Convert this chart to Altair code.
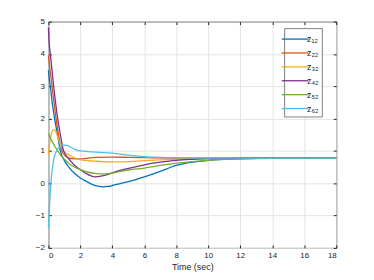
import altair as alt
import pandas as pd

# ---- data ----
t_z12 = [0, 0.05, 0.12, 0.25, 0.39, 0.55, 0.75, 1.0, 1.32, 1.65, 2.0, 2.4, 2.77, 3.1, 3.4, 3.7, 4.0, 4.5, 5.0, 6.0, 7.0, 8.0, 9.0, 10.0, 11.0, 12.0, 14.0, 16.0, 18.0]
v_z12 = [3.5, 3.25, 3.0, 2.45, 2.0, 1.55, 1.0, 0.7, 0.47, 0.3, 0.16, 0.05, -0.04, -0.09, -0.11, -0.1, -0.07, -0.01, 0.05, 0.2, 0.37, 0.55, 0.65, 0.71, 0.74, 0.76, 0.78, 0.78, 0.78]

t_z22 = [0, 0.1, 0.23, 0.35, 0.48, 0.65, 0.85, 1.05, 1.3, 1.55, 2.0, 2.5, 3.0, 4.0, 5.0, 6.0, 8.0, 10.0, 12.0, 14.0, 16.0, 18.0]
v_z22 = [3.95, 3.52, 3.0, 2.5, 2.0, 1.45, 1.0, 0.85, 0.78, 0.76, 0.75, 0.78, 0.8, 0.81, 0.8, 0.79, 0.78, 0.78, 0.78, 0.78, 0.78, 0.78]

t_z32 = [0, 0.1, 0.2, 0.33, 0.45, 0.64, 0.8, 0.95, 1.35, 2.0, 3.0, 4.0, 5.0, 6.0, 7.0, 8.0, 10.0, 12.0, 14.0, 18.0]
v_z32 = [0.9, 1.3, 1.55, 1.66, 1.62, 1.34, 1.15, 1.0, 0.86, 0.73, 0.68, 0.66, 0.67, 0.7, 0.72, 0.74, 0.76, 0.77, 0.78, 0.78]

t_z42 = [0, 0.04, 0.12, 0.33, 0.58, 0.75, 0.95, 1.32, 1.65, 2.0, 2.4, 2.9, 3.3, 4.0, 4.43, 5.0, 6.0, 7.0, 8.0, 9.0, 10.0, 12.0, 14.0, 18.0]
v_z42 = [4.82, 4.4, 4.0, 3.0, 2.0, 1.5, 1.0, 0.73, 0.55, 0.42, 0.29, 0.2, 0.22, 0.32, 0.39, 0.46, 0.57, 0.65, 0.71, 0.74, 0.76, 0.78, 0.78, 0.78]

t_z52 = [0, 0.25, 0.54, 0.8, 1.0, 1.3, 1.65, 2.0, 2.5, 3.0, 3.5, 4.0, 4.43, 5.0, 6.0, 7.0, 8.0, 9.0, 10.0, 12.0, 14.0, 18.0]
v_z52 = [1.54, 1.28, 1.03, 0.85, 0.74, 0.6, 0.5, 0.42, 0.34, 0.3, 0.29, 0.31, 0.36, 0.41, 0.47, 0.55, 0.62, 0.67, 0.71, 0.75, 0.77, 0.78]

t_z62 = [0, 0.08, 0.17, 0.25, 0.33, 0.54, 0.75, 0.95, 1.15, 1.37, 1.65, 2.0, 2.5, 3.0, 4.0, 5.0, 6.0, 7.0, 8.0, 10.0, 18.0]
v_z62 = [-1.37, -0.6, 0.1, 0.45, 0.72, 1.03, 1.14, 1.18, 1.17, 1.12, 1.05, 1.0, 0.98, 0.96, 0.93, 0.87, 0.82, 0.8, 0.79, 0.78, 0.78]

series_names = ["z₁₂", "z₂₂", "z₃₂", "z₄₂", "z₅₂", "z₆₂"]
series_colors = ["#0072BD", "#D95319", "#EDB120", "#7E2F8E", "#77AC30", "#4DBEEE"]
x_ticks = [0, 2, 4, 6, 8, 10, 12, 14, 16, 18]
y_ticks = [-2, -1, 0, 1, 2, 3, 4, 5]

ts = [t_z12, t_z22, t_z32, t_z42, t_z52, t_z62]
vs = [v_z12, v_z22, v_z32, v_z42, v_z52, v_z62]
rows = []
for k, (name, tt, vv) in enumerate(zip(series_names, ts, vs)):
    for a, b in zip(tt, vv):
        rows.append({"t": a, "v": b, "series": name, "order": k})
df = pd.DataFrame(rows)

FONT = "Liberation Sans"
TXT = "#262626"

xscale = alt.Scale(domain=[0, 18], nice=False, zero=False)
yscale = alt.Scale(domain=[-2, 5], nice=False, zero=False)

main = alt.Chart(df).mark_line(strokeWidth=1.3, interpolate="monotone").encode(
    x=alt.X("t:Q", scale=xscale, axis=alt.Axis(
        orient="bottom", values=x_ticks, title="Time (sec)", grid=True,
        gridColor="#e3e3e3", domain=False, ticks=True, tickSize=3,
        tickColor=TXT, offset=-3, labelPadding=4, labelFontSize=8,
        labelColor=TXT, labelFont=FONT, titleFont=FONT, titleFontSize=9,
        titleFontWeight="normal", titleColor=TXT, titlePadding=3)),
    y=alt.Y("v:Q", scale=yscale, axis=alt.Axis(
        orient="left", values=y_ticks, title=None, grid=True,
        gridColor="#e3e3e3", domain=False, ticks=True, tickSize=3,
        tickColor=TXT, offset=-3, labelPadding=4, labelFontSize=8,
        labelColor=TXT, labelFont=FONT)),
    color=alt.Color("series:N", sort=series_names,
                    scale=alt.Scale(domain=series_names, range=series_colors),
                    legend=alt.Legend(
                        title=None, orient="none", legendX=237.5, legendY=6.6,
                        symbolType="M-1.9,0H1.9", symbolSize=200, symbolStrokeWidth=1.3,
                        symbolFillColor="transparent",
                        labelFont=FONT, labelFontSize=9, labelColor=TXT,
                        fillColor="white", strokeColor="#7f7f7f", padding=3,
                        rowPadding=1, labelOffset=4)),
    detail="series:N",
    order="order:Q",
)

frame = alt.Chart(df).mark_line(opacity=0).encode(
    x=alt.X("t:Q", scale=xscale, axis=alt.Axis(
        orient="top", values=x_ticks, title=None, labels=False, grid=False,
        domain=False, ticks=True, tickSize=3, tickColor=TXT, offset=-3)),
    y=alt.Y("v:Q", scale=yscale, axis=alt.Axis(
        orient="right", values=y_ticks, title=None, labels=False, grid=False,
        domain=False, ticks=True, tickSize=3, tickColor=TXT, offset=-3)),
    detail="series:N",
)

chart = alt.layer(main, frame).resolve_axis(
    x="independent", y="independent"
).properties(
    width=290, height=228,
    autosize=alt.AutoSizeParams(type="none"),
    padding={"left": 40.7, "top": 12.7, "right": 30, "bottom": 28},
    background="white",
).configure_view(stroke=TXT, strokeWidth=1)

chart.save("out.html", embed_options={"renderer": "svg", "actions": False})
